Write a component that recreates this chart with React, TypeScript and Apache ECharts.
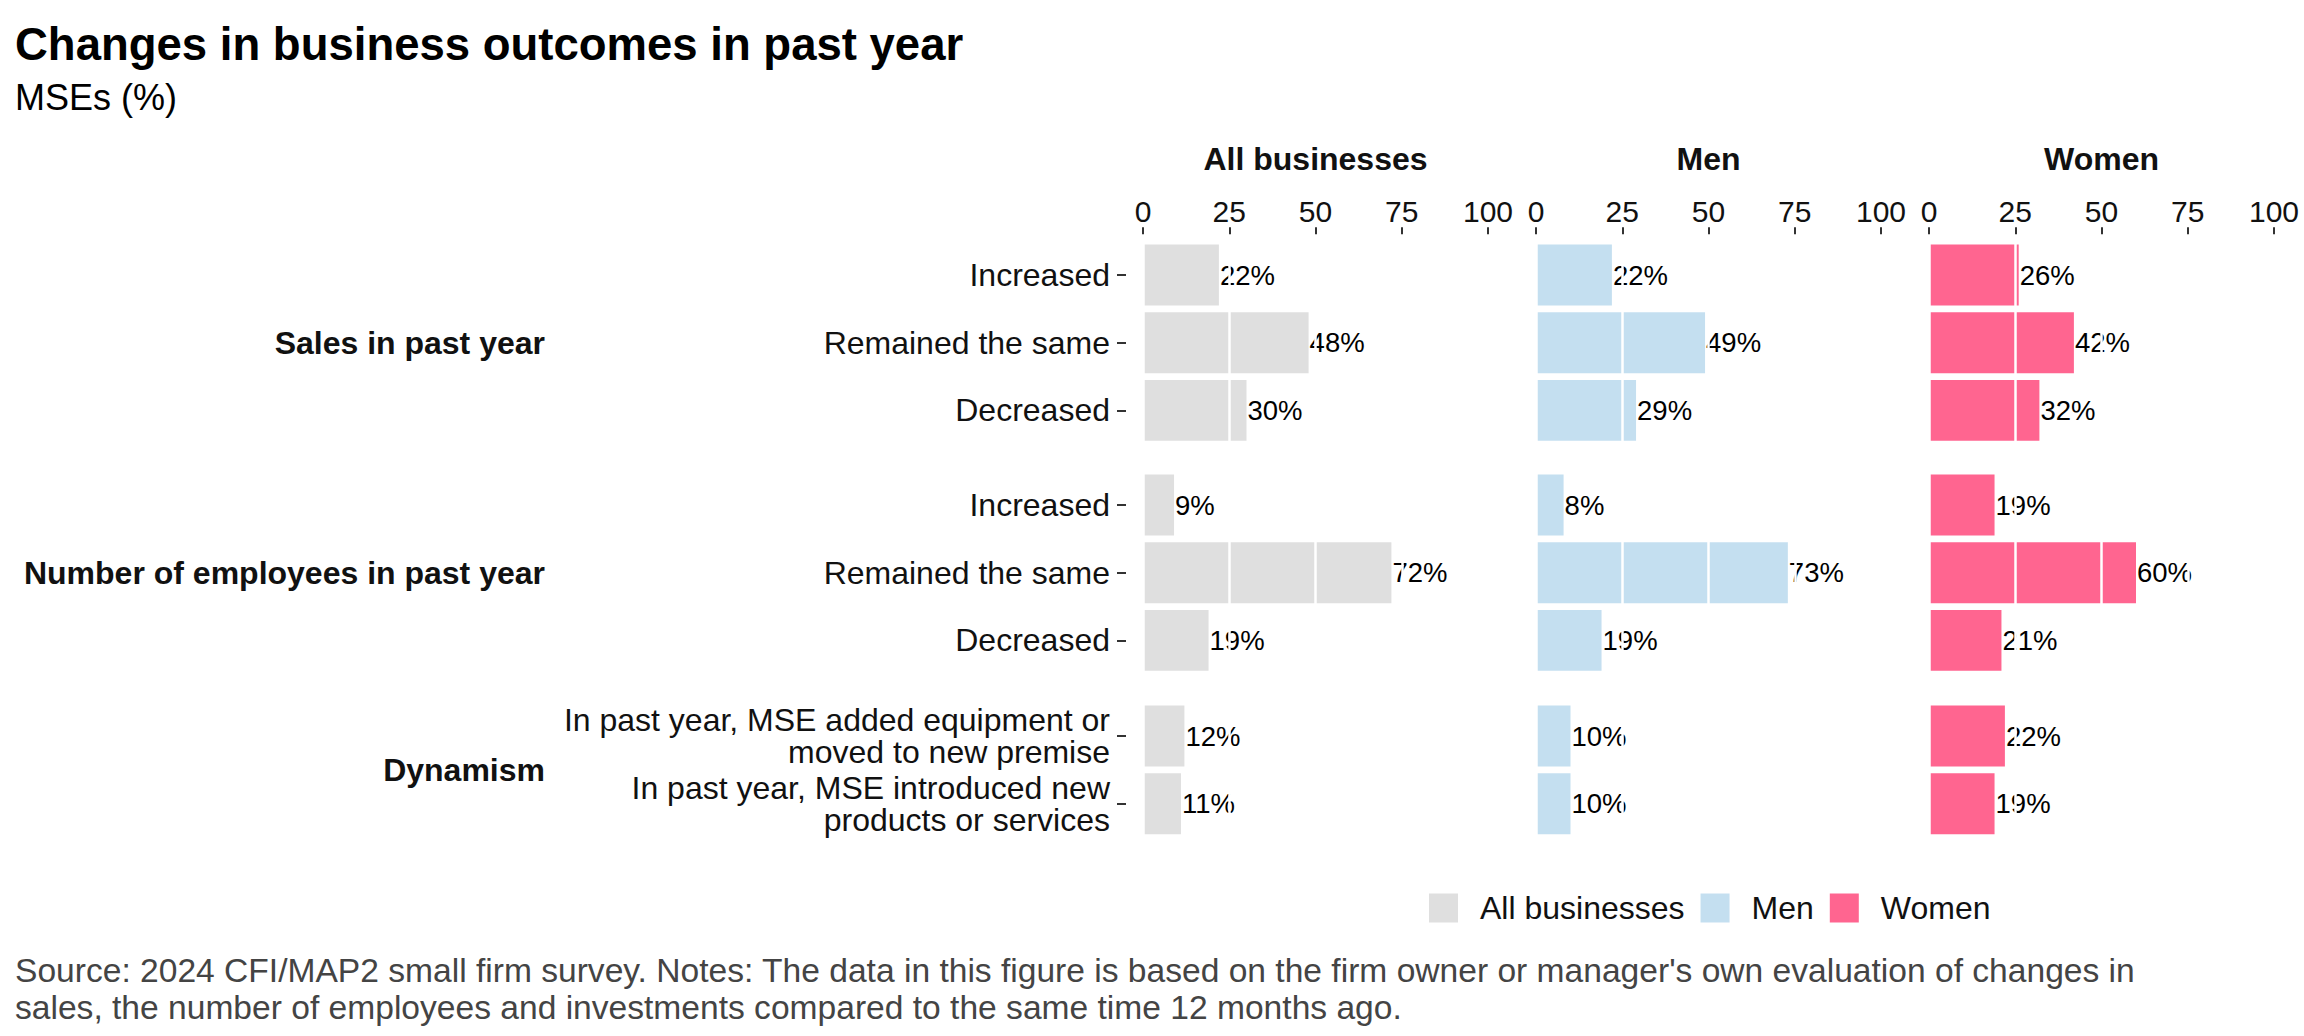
import React, { useEffect, useRef } from "react";
import * as echarts from "echarts";

// ---- Data ----
const columns = ["All businesses", "Men", "Women"];
const groups = ["Sales in past year", "Number of employees in past year", "Dynamism"];
const salesCategories = ["Increased", "Remained the same", "Decreased"];
const employeeCategories = ["Increased", "Remained the same", "Decreased"];
const dynamismCategories = [
  "In past year, MSE added equipment or\nmoved to new premise",
  "In past year, MSE introduced new\nproducts or services",
];

const allSales = [22, 48, 30];
const allEmployees = [9, 72, 19];
const allDynamism = [12, 11];
const menSales = [22, 49, 29];
const menEmployees = [8, 73, 19];
const menDynamism = [10, 10];
const womenSales = [26, 42, 32];
const womenEmployees = [19, 60, 21];
const womenDynamism = [22, 19];

const xMin = 0;
const xMax = 100;
const xInterval = 25;

const titleText = "Changes in business outcomes in past year";
const subtitleText = "MSEs (%)";
const footLine1 =
  "Source: 2024 CFI/MAP2 small firm survey. Notes: The data in this figure is based on the firm owner or manager's own evaluation of changes in";
const footLine2 =
  "sales, the number of employees and investments compared to the same time 12 months ago.";

// ---- Styles / layout ----
const colors = ["#DFDFDF", "#C4DFF0", "#FF6590"];
const FONT = "Liberation Sans, Arial, Helvetica, sans-serif";
const colLeft = [1143, 1536, 1929];
const colWidth = 345;
const yAxisX = 1126; // position of the category axis (ticks drawn to its left)
const band = 67.7;
const rowCenters0 = [275, 505, 736]; // first category centre of each row panel

export default function App() {
  const ref = useRef<HTMLDivElement>(null);

  useEffect(() => {
    document.body.style.margin = "0";
    if (!ref.current) return;
    const chart = echarts.init(ref.current, undefined, { renderer: "svg" });

    const cats = [salesCategories, employeeCategories, dynamismCategories];
    const values = [
      [allSales, allEmployees, allDynamism],
      [menSales, menEmployees, menDynamism],
      [womenSales, womenEmployees, womenDynamism],
    ];

    const grids: any[] = [];
    const xAxes: any[] = [];
    const yAxes: any[] = [];
    const series: any[] = [];

    for (let r = 0; r < 3; r++) {
      const n = cats[r].length;
      const top = rowCenters0[r] - band / 2;
      const h = band * n;
      for (let c = 0; c < 3; c++) {
        const idx = r * 3 + c;
        grids.push({ left: colLeft[c], top, width: colWidth, height: h, containLabel: false });
        xAxes.push({
          type: "value",
          gridIndex: idx,
          min: xMin,
          max: xMax,
          interval: xInterval,
          position: "top",
          offset: r === 0 ? 7 : 0,
          z: 10,
          axisLine: { show: false },
          axisTick: { show: r === 0, length: 7, lineStyle: { color: "#333", width: 2 } },
          axisLabel: {
            show: r === 0,
            fontSize: 30,
            color: "#111",
            fontFamily: FONT,
            margin: 8,
          },
          splitLine: { show: true, lineStyle: { color: "#FFFFFF", width: 2.5 } },
        });
        yAxes.push({
          type: "category",
          gridIndex: idx,
          data: cats[r],
          inverse: true,
          axisLine: { show: false },
          axisTick: { show: false },
          axisLabel: { show: false },
          splitLine: { show: false },
        });
        series.push({
          type: "bar",
          name: columns[c],
          xAxisIndex: idx,
          yAxisIndex: idx,
          data: values[c][r],
          barWidth: "90%",
          itemStyle: { color: colors[c] },
          label: {
            show: true,
            position: "right",
            distance: 1,
            formatter: "{c}%",
            fontSize: 27.5,
            color: "#000",
            fontFamily: FONT,
          },
          z: 2,
        });
      }
    }

    // label-only grids holding the category axes (ticks sit apart from the panels)
    for (let r = 0; r < 3; r++) {
      const n = cats[r].length;
      const top = rowCenters0[r] - band / 2;
      const h = band * n;
      const idx = 9 + r;
      grids.push({ left: yAxisX, top, width: 2, height: h, containLabel: false });
      xAxes.push({
        type: "value",
        gridIndex: idx,
        min: xMin,
        max: xMax,
        interval: xInterval,
        show: false,
      });
      yAxes.push({
        type: "category",
        gridIndex: idx,
        data: cats[r],
        inverse: true,
        axisLine: { show: false },
        axisTick: {
          show: true,
          alignWithLabel: true,
          length: 9,
          lineStyle: { color: "#333", width: 2 },
        },
        axisLabel: {
          show: true,
          fontSize: 32,
          color: "#111",
          fontFamily: FONT,
          margin: 16,
          lineHeight: 32,
          align: "right",
        },
        splitLine: { show: false },
      });
    }

    const graphic: any[] = [
      {
        type: "text",
        x: 15,
        y: 44,
        style: { text: titleText, font: `bold 45.5px ${FONT}`, fill: "#000", textAlign: "left", textVerticalAlign: "middle" },
      },
      {
        type: "text",
        x: 15,
        y: 97,
        style: { text: subtitleText, font: `36px ${FONT}`, fill: "#000", textAlign: "left", textVerticalAlign: "middle" },
      },
      {
        type: "text",
        x: 15,
        y: 970,
        style: { text: footLine1, font: `33.6px ${FONT}`, fill: "#444", textAlign: "left", textVerticalAlign: "middle" },
      },
      {
        type: "text",
        x: 15,
        y: 1007,
        style: { text: footLine2, font: `33.6px ${FONT}`, fill: "#444", textAlign: "left", textVerticalAlign: "middle" },
      },
    ];
    columns.forEach((name, c) => {
      graphic.push({
        type: "text",
        x: colLeft[c] + colWidth / 2,
        y: 159,
        style: { text: name, font: `bold 32px ${FONT}`, fill: "#111", textAlign: "center", textVerticalAlign: "middle" },
      });
    });
    groups.forEach((name, r) => {
      const n = cats[r].length;
      const cy = rowCenters0[r] + (band * (n - 1)) / 2;
      graphic.push({
        type: "text",
        x: 545,
        y: cy,
        style: { text: name, font: `bold 32px ${FONT}`, fill: "#111", textAlign: "right", textVerticalAlign: "middle" },
      });
    });

    chart.setOption({
      animation: false,
      backgroundColor: "#FFFFFF",
      textStyle: { fontFamily: FONT },
      grid: grids,
      xAxis: xAxes,
      yAxis: yAxes,
      series,
      legend: {
        data: columns,
        left: 1424,
        top: 887,
        icon: "rect",
        itemWidth: 29,
        itemHeight: 29,
        itemGap: 16,
        selectedMode: false,
        textStyle: { fontSize: 32, color: "#111", fontFamily: FONT, padding: [0, 0, 0, 17] },
      },
      graphic,
    });

    return () => chart.dispose();
  }, []);

  return <div ref={ref} style={{ width: 2304, height: 1036 }} />;
}
